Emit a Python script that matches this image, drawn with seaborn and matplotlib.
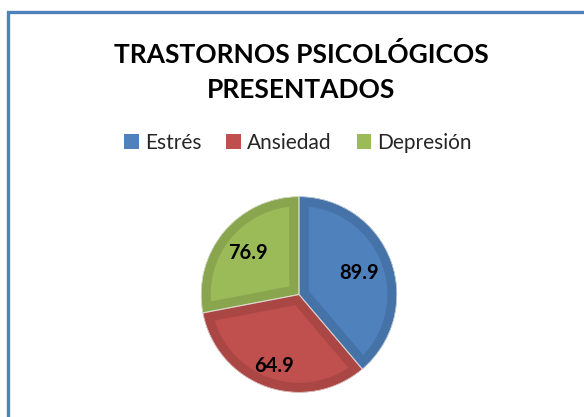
import numpy as np
import matplotlib
matplotlib.use("Agg")
import matplotlib.pyplot as plt
import seaborn as sns
from matplotlib.patches import Patch, Rectangle

# ------------------------------
# Data
# ------------------------------
categorias = ["Estrés", "Ansiedad", "Depresión"]
porciones = [89.9, 76.9, 64.9]          # slice sizes as drawn
etiquetas = ["89.9", "64.9", "76.9"]    # labels as printed on the slices
colores = ["#4F81BD", "#C0504D", "#9BBB59"]
bordes = ["#4572A7", "#AA4643", "#89A54E"]
dist_etiqueta = [0.65, 0.77, 0.67]

sns.set_theme(style="white")
plt.rcParams["font.family"] = ["Lato", "DejaVu Sans"]

W, H = 584, 417
fig = plt.figure(figsize=(W / 100, H / 100), dpi=100)
fig.patch.set_facecolor("white")

# chart border (only top/left visible in the frame)
fig.patches.append(Rectangle((7.5 / W, -0.2), 1.2, (H - 11.5) / H + 0.2,
                             transform=fig.transFigure, fill=False,
                             edgecolor="#4F81BD", linewidth=2.4))

# pie axes: centre (299, 294.5), radius 100 px
cx, cy, r = 299, 294.5, 100
ax = fig.add_axes([(cx - r) / W, (H - cy - r) / H, 2 * r / W, 2 * r / H])
wedges, _ = ax.pie(porciones, colors=colores, startangle=90, counterclock=False,
                   radius=1, wedgeprops={"linewidth": 14})
# bevel look: thick edge stroke clipped to the inside of each slice
for w, c in zip(wedges, bordes):
    w.set_edgecolor(c)
    w.set_clip_on(True)
    w.set_clip_path(w)

# thin light separators
sep, _ = ax.pie(porciones, colors=["none"] * 3, startangle=90, counterclock=False,
                radius=1, wedgeprops={"linewidth": 0.8, "edgecolor": "#eeeeee"})
for s in sep:
    s.set_clip_on(True)
    s.set_clip_path(s)

for w, txt, d in zip(wedges, etiquetas, dist_etiqueta):
    ang = np.deg2rad((w.theta1 + w.theta2) / 2)
    ax.text(d * np.cos(ang), d * np.sin(ang), txt, ha="center", va="center",
            fontsize=14.5, fontweight="bold", color="black")

ax.set_xlim(-1.02, 1.02)
ax.set_ylim(-1.02, 1.02)
ax.set_aspect("equal")
ax.axis("off")

# title
fig.text(301 / W, 1 - 63 / H, "TRASTORNOS PSICOLÓGICOS", ha="center", va="baseline",
         fontsize=19, fontweight="bold", color="black")
fig.text(301 / W, 1 - 98 / H, "PRESENTADOS", ha="center", va="baseline",
         fontsize=19, fontweight="bold", color="black")

# legend
handles = [Patch(facecolor=c, edgecolor="none") for c in colores]
fig.legend(handles, categorias, ncol=3, loc="center", bbox_to_anchor=(298 / W, 1 - 143 / H),
           frameon=False, fontsize=15, handlelength=0.7, handleheight=0.7,
           handletextpad=0.3, columnspacing=1.2)

fig.savefig("out.png", dpi=100)
